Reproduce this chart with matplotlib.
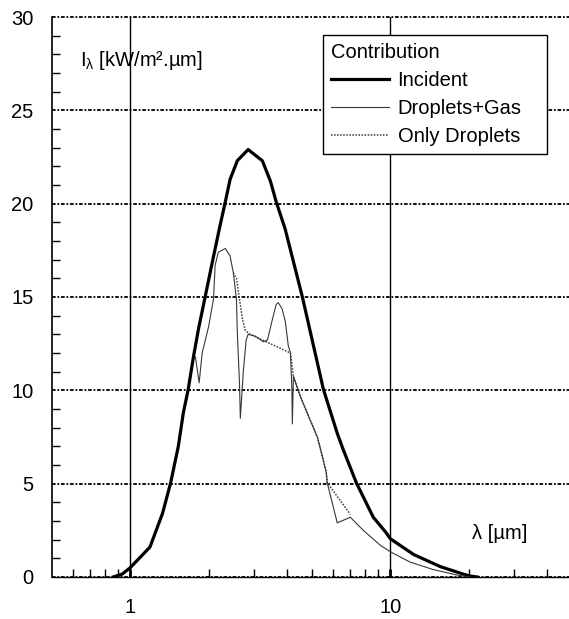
import matplotlib
matplotlib.use("Agg")
import matplotlib.pyplot as plt
from matplotlib.ticker import FixedLocator, NullFormatter, MultipleLocator

plt.rcParams['font.family'] = ['Liberation Sans', 'DejaVu Sans']
plt.rcParams['mathtext.fontset'] = 'custom'
plt.rcParams['mathtext.rm'] = 'Liberation Sans'
plt.rcParams['mathtext.it'] = 'Liberation Sans'

# incident spectrum
inc_wl = [0.86, 0.93, 1.0, 1.19, 1.33, 1.43, 1.53, 1.60, 1.67, 1.75, 1.83, 1.94,
          2.07, 2.20, 2.32, 2.42, 2.58, 2.84, 3.22, 3.46, 3.64, 3.94, 4.59, 5.53,
          6.25, 6.6, 7.4, 8.6, 9.6, 10.0, 12.3, 15.6, 19.1, 20.3, 21.6]
inc_I = [0.0, 0.15, 0.5, 1.6, 3.4, 5.05, 7.0, 8.8, 10.05, 11.8, 13.3, 15.0,
         16.9, 18.65, 20.1, 21.3, 22.3, 22.9, 22.3, 21.2, 20.1, 18.65, 15.0, 10.05,
         7.7, 6.8, 5.05, 3.2, 2.4, 2.05, 1.2, 0.55, 0.15, 0.05, 0.0]

# droplets + gas
dg_wl = [1.78, 1.84, 1.89, 2.0, 2.09, 2.12, 2.18, 2.32, 2.42, 2.49, 2.56, 2.58,
         2.63, 2.65, 2.72, 2.79, 2.84, 3.03, 3.25, 3.37, 3.52, 3.64, 3.71, 3.84,
         3.95, 4.05, 4.13, 4.18, 4.20, 4.24, 4.5, 4.92, 5.24, 5.48, 5.67, 5.72,
         6.25, 7.02, 7.87, 9.15, 10.0, 11.9, 14.6, 18.1, 20.3]
dg_I = [11.8, 10.4, 12.0, 13.4, 14.9, 16.7, 17.4, 17.6, 17.2, 16.3, 14.9, 13.1,
        10.4, 8.5, 11.0, 12.7, 13.0, 12.9, 12.6, 12.7, 13.8, 14.6, 14.7, 14.35,
        13.65, 12.4, 12.0, 10.2, 8.2, 10.75, 9.7, 8.4, 7.5, 6.45, 5.6, 5.05,
        2.9, 3.2, 2.5, 1.7, 1.35, 0.8, 0.4, 0.1, 0.0]

# only droplets (departs from droplets+gas around the gas bands)
od_wl = [2.49, 2.56, 2.63, 2.70, 2.77, 2.89, 4.13, 4.24, 4.5, 4.92, 5.24, 5.48,
         5.67, 5.72, 7.02]
od_I = [16.3, 16.0, 14.9, 13.8, 13.2, 13.0, 12.0, 10.75, 9.7, 8.4, 7.5, 6.45,
        5.6, 5.05, 3.35]

fig = plt.figure(figsize=(5.69, 6.19), dpi=100)
ax = fig.add_axes([0.0914, 0.0679, 0.914, 0.9046])

ax.plot(inc_wl, inc_I, color='black', lw=2.3, label='Incident')
ax.plot(dg_wl, dg_I, color='#383838', lw=0.8, label='Droplets+Gas')
ax.plot(od_wl, od_I, color='#383838', lw=1.1, ls=(0, (1, 1)), label='Only Droplets')

ax.set_xscale('log')
ax.set_xlim(0.5, 50)
ax.set_ylim(0, 30)

ax.xaxis.set_major_locator(FixedLocator([1, 10]))
ax.xaxis.set_minor_locator(FixedLocator([0.6, 0.7, 0.8, 0.9, 2, 3, 4, 5, 6, 7, 8, 9,
                                         20, 30, 40]))
ax.xaxis.set_minor_formatter(NullFormatter())
ax.set_xticklabels(['1', '10'])
ax.yaxis.set_major_locator(MultipleLocator(5))
ax.yaxis.set_minor_locator(MultipleLocator(1))

ax.tick_params(axis='x', which='major', direction='in', length=6, width=2,
               labelsize=14.5, pad=15.5)
ax.tick_params(axis='x', which='minor', direction='in', length=6, width=1)
ax.tick_params(axis='y', which='major', direction='in', length=0, labelsize=14.5, pad=13.5)
ax.tick_params(axis='y', which='minor', direction='in', length=6, width=1)

ax.yaxis.grid(True, which='major', color='black', lw=1.3, ls=(0, (2, 1, 1, 1)))
ax.xaxis.grid(True, which='major', color='black', lw=1.0, ls='-')
for gl in ax.yaxis.get_gridlines():
    gl.set_clip_on(False)

for s in ['top', 'right']:
    ax.spines[s].set_visible(False)
ax.spines['left'].set_linewidth(1.2)
ax.spines['bottom'].set_linewidth(1.0)

ax.text(0.054, 0.9125, r'I$_{\lambda}$ [kW/m².µm]', transform=ax.transAxes,
        fontsize=14.5, va='baseline', ha='left')
ax.text(0.808, 0.078, 'λ [µm]', transform=ax.transAxes,
        fontsize=14.5, va='center', ha='left')

leg = ax.legend(loc='upper left',
                bbox_to_anchor=(323 / 569, 1 - 162 / 619, 224 / 569, 127 / 619),
                bbox_transform=fig.transFigure, mode='expand', title='Contribution',
                alignment='left', fontsize=14.5, title_fontsize=14.5,
                handlelength=2.9, handletextpad=0.4, labelspacing=0.45,
                borderaxespad=0, fancybox=False, framealpha=1, edgecolor='black')
leg.get_frame().set_linewidth(1.0)

fig.savefig('out.png', dpi=100)
